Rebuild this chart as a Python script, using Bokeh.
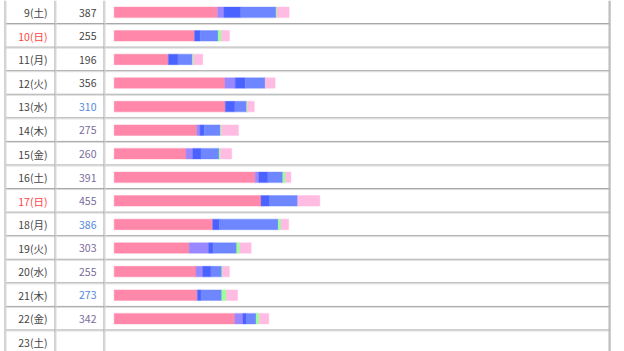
from bokeh.plotting import figure
from bokeh.models import Range1d, ColumnDataSource
from bokeh.core.properties import value
from bokeh.embed import file_html
from bokeh.resources import INLINE

# ---- data ----
days = [9, 10, 11, 12, 13, 14, 15, 16, 17, 18, 19, 20, 21, 22, 23]
weekdays = ["土", "日", "月", "火", "水", "木", "金", "土", "日", "月", "火", "水", "木", "金", "土"]
totals = [387, 255, 196, 356, 310, 275, 260, 391, 455, 386, 303, 255, 273, 342, None]
s_pink = [229, 178, 120, 245, 246, 183, 159, 312, 325, 218, 166, 181, 183, 267, 0]
s_purple = [14, 0, 0, 23, 0, 7, 15, 8, 0, 0, 43, 15, 2, 18, 0]
s_blue = [37, 12, 21, 22, 21, 9, 18, 20, 19, 15, 10, 18, 7, 8, 0]
s_lblue = [78, 40, 32, 44, 26, 36, 40, 33, 62, 130, 52, 24, 46, 21, 0]
s_green = [2, 7, 2, 0, 2, 2, 3, 6, 0, 6, 7, 2, 10, 7, 0]
s_lpink = [27, 18, 21, 22, 15, 38, 25, 12, 49, 17, 25, 15, 25, 21, 0]

series = [s_pink, s_purple, s_blue, s_lblue, s_green, s_lpink]
colors = ["#ff88aa", "#9988ff", "#4a62ff", "#6e86ff", "#99ff99", "#ffbbe2"]

W, H = 624, 351
ROW = 23.57
X0 = 113.7          # px where value 0 sits
PXU = 0.452         # px per unit

p = figure(width=W, height=H, output_backend="svg", toolbar_location=None,
           x_range=Range1d(-X0 / PXU, (W - X0) / PXU),
           y_range=Range1d(H / ROW - 0.5, -0.5),
           min_border=0, outline_line_color=None, background_fill_color="white")
p.axis.visible = False
p.xgrid.visible = False
p.ygrid.visible = False
p.extra_x_ranges = {"px": Range1d(0, W)}
p.extra_y_ranges = {"py": Range1d(H, 0)}

# ---- table lines ----
nrows = len(days)
hy = [k * ROW for k in range(1, nrows)]
p.segment(x0=[5] * len(hy), x1=[609] * len(hy), y0=[y - 0.5 for y in hy], y1=[y - 0.5 for y in hy],
          x_range_name="px", y_range_name="py", line_color="#a4a4a4", line_width=1)
p.segment(x0=[5] * len(hy), x1=[609] * len(hy), y0=[y + 0.5 for y in hy], y1=[y + 0.5 for y in hy],
          x_range_name="px", y_range_name="py", line_color="#dadada", line_width=1)
vx = [5, 55, 104]
p.segment(x0=[v - 0.5 for v in vx], x1=[v - 0.5 for v in vx], y0=[0] * 3, y1=[H] * 3,
          x_range_name="px", y_range_name="py", line_color="#a4a4a4", line_width=1)
p.segment(x0=[v + 0.5 for v in vx], x1=[v + 0.5 for v in vx], y0=[0] * 3, y1=[H] * 3,
          x_range_name="px", y_range_name="py", line_color="#dadada", line_width=1)
p.segment(x0=[608.5, 609.5], x1=[608.5, 609.5], y0=[0, 0], y1=[H, H],
          x_range_name="px", y_range_name="py", line_color=["#b8b8b8", "#a0a0a0"], line_width=1)

# ---- stacked bars ----
rows = list(range(nrows))
left = [0] * nrows
for s, c in zip(series, colors):
    right = [l + v for l, v in zip(left, s)]
    idx = [i for i in rows if s[i] > 0]
    src = ColumnDataSource(dict(y=[rows[i] for i in idx], left=[left[i] for i in idx],
                                right=[right[i] for i in idx]))
    p.hbar(y="y", left="left", right="right", height=10.5 / ROW, source=src,
           fill_color=c, line_color=c, line_alpha=0.35, line_width=1.2)
    left = right

# ---- labels ----
date_lbl = [f"{d}({w})" for d, w in zip(days, weekdays)]
date_col = ["#ff4444" if w == "日" else "#444444" for w in weekdays]
tot_cols = ["#444444", "#444444", "#444444", "#444444", "#5588dd", "#7a6c9c", "#7a6c9c",
            "#7a6c9c", "#7a6c9c", "#5588dd", "#7a6c9c", "#7a6c9c", "#5588dd", "#7a6c9c", "#444444"]
pyc = [ROW * (i + 0.5) + 0.3 for i in rows]
p.text(x=[47] * nrows, y=pyc, text=date_lbl, text_color=date_col,
       x_range_name="px", y_range_name="py",
       text_align="right", text_baseline="middle",
       text_font=value("Noto Sans CJK JP"), text_font_size="10.5px")
ti = [i for i in rows if totals[i] is not None]
p.text(x=[96] * len(ti), y=[pyc[i] for i in ti], text=[str(totals[i]) for i in ti],
       text_color=[tot_cols[i] for i in ti],
       x_range_name="px", y_range_name="py",
       text_align="right", text_baseline="middle",
       text_font=value("Noto Sans CJK JP"), text_font_size="10.5px")

open("out.html", "w").write(file_html(p, INLINE))
